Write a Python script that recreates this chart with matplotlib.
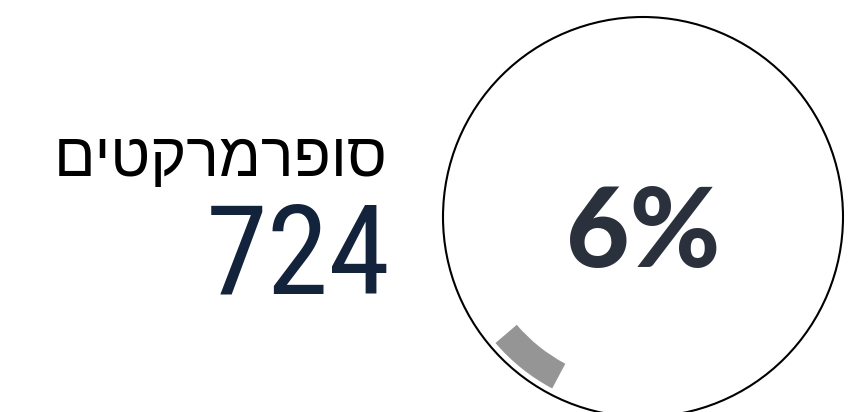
import matplotlib
matplotlib.use("Agg")
import matplotlib.pyplot as plt
from matplotlib.patches import Circle
from matplotlib import font_manager as fm

# ---- data ----
label_he = "סופרמרקטים"
count_value = "724"
share_values = [6, 94]
share_label = "6%"

names = {f.name for f in fm.fontManager.ttflist}
def pick(cands):
    return [c for c in cands if c in names] + ["DejaVu Sans"]

W, H = 857, 412
fig = plt.figure(figsize=(W / 100, H / 100), dpi=100)
ax = fig.add_axes([0, 0, 1, 1])

cx, cy = 643, H - 217
ax.pie(share_values, radius=194, center=(cx, cy), startangle=220.5,
       counterclock=True, colors=["#959595", "none"],
       wedgeprops=dict(width=28, linewidth=0))
ax.add_patch(Circle((cx, cy), 200, fill=False, lw=1.5, ec="black"))

ax.text(cx, H - 267, share_label, ha="center", va="baseline",
        fontsize=79, fontweight="black", color="#2b313c",
        family=pick(["Lato", "Inter", "Open Sans"]))

# Hebrew: matplotlib has no bidi, so reverse for visual order
ax.text(388, H - 176, label_he[::-1], ha="right", va="baseline",
        fontsize=44, fontweight="light", color="black",
        family=pick(["Open Sans", "Liberation Sans", "Noto Sans"]))

ax.text(391, H - 293, count_value, ha="right", va="baseline",
        fontsize=90, fontweight="normal", color="#14233c",
        family=pick(["Roboto Condensed", "Liberation Sans Narrow",
                     "DejaVu Sans Condensed"]))

ax.set_xlim(0, W)
ax.set_ylim(0, H)
ax.set_aspect("equal")
ax.axis("off")
fig.savefig("out.png", dpi=100)
